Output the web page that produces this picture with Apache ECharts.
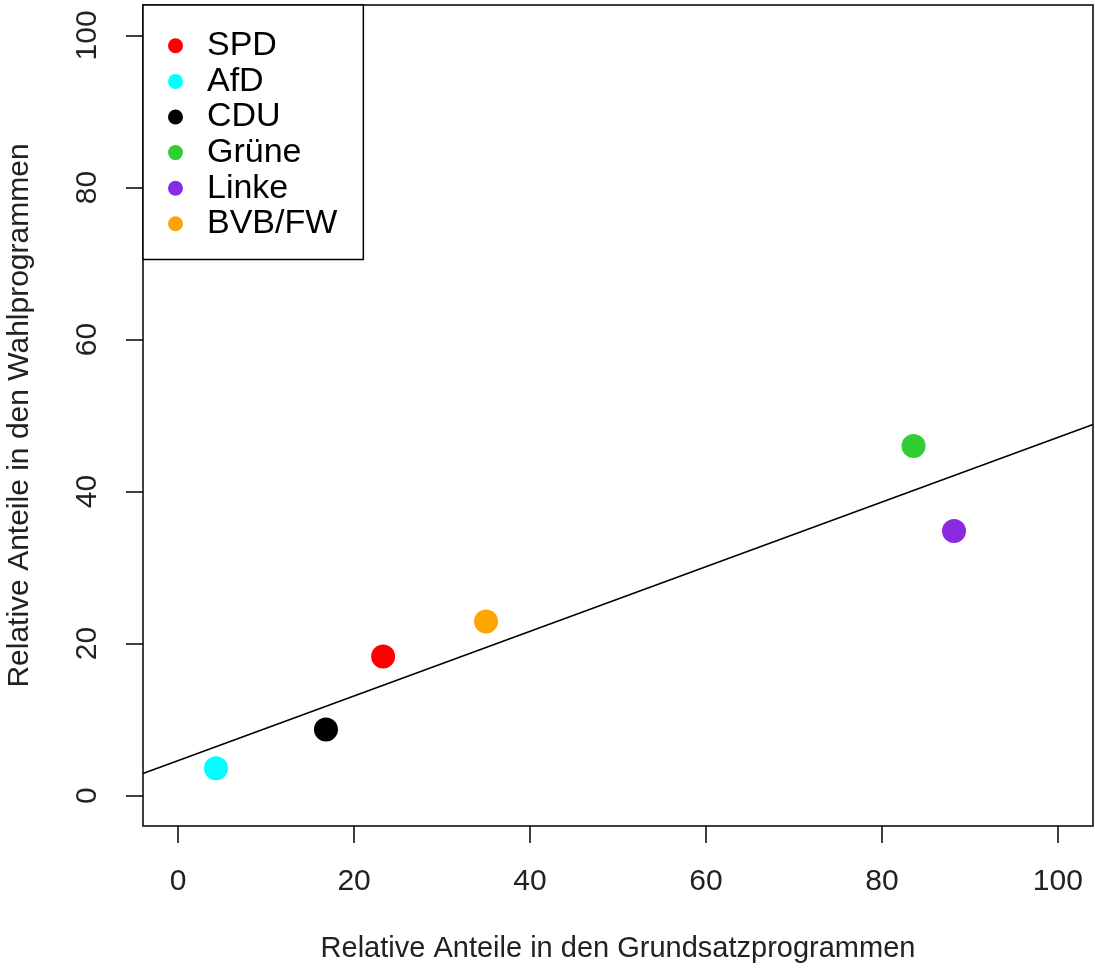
<!DOCTYPE html>
<html>
<head>
<meta charset="utf-8">
<script src="https://cdn.jsdelivr.net/npm/echarts@6/dist/echarts.min.js"></script>
<style>
  html, body { margin: 0; padding: 0; background: #fff; }
  #chart { width: 1095px; height: 971px; }
</style>
</head>
<body>
<div id="chart"></div>
<script>
// Parteien und ihre Anteile
var parties = ['SPD', 'AfD', 'CDU', 'Grüne', 'Linke', 'BVB/FW'];
var grundsatz = [23.3, 4.3, 16.8, 83.6, 88.2, 35.0];
var wahl = [18.3, 3.6, 8.7, 46.0, 34.8, 22.9];
var partyColors = ['#ff0000', '#00ffff', '#000000', '#32cd32', '#8a2be2', '#ffa500'];
var ticks = [0, 20, 40, 60, 80, 100];
// Regressionsgerade (abline)
var intercept = 4.6;
var slope = 0.425;
var axisMin = -4, axisMax = 104;

var font = 'Liberation Sans, Arial, sans-serif';

var series = parties.map(function (p, i) {
    return {
        name: p,
        type: 'scatter',
        symbol: 'circle',
        symbolSize: 24,
        itemStyle: { color: partyColors[i], opacity: 1 },
        data: [[grundsatz[i], wahl[i]]],
        z: 3
    };
});
series.push({
    name: 'fit',
    type: 'line',
    symbol: 'none',
    silent: true,
    lineStyle: { color: '#000', width: 1.6 },
    data: [[axisMin, intercept + slope * axisMin], [axisMax, intercept + slope * axisMax]],
    z: 2
});

var chart = echarts.init(document.getElementById('chart'));
chart.setOption({
    animation: false,
    backgroundColor: '#fff',
    grid: {
        left: 143, right: 2, top: 5, bottom: 145,
        outerBoundsMode: 'none',
        show: true, borderColor: '#000', borderWidth: 1.5, backgroundColor: 'transparent'
    },
    legend: {
        data: parties,
        orient: 'vertical',
        left: 143, top: 5,
        backgroundColor: '#fff',
        borderColor: '#000',
        borderWidth: 1.5,
        borderRadius: 0,
        padding: [23, 26, 18, 25],
        itemGap: 0,
        itemWidth: 15,
        itemHeight: 15,
        icon: 'circle',
        itemStyle: { borderWidth: 0 },
        textStyle: { fontFamily: font, fontSize: 34, color: '#000', lineHeight: 35.6, padding: [0, 0, 0, 19] },
        selectedMode: false
    },
    xAxis: {
        type: 'value',
        min: axisMin, max: axisMax,
        name: 'Relative Anteile in den Grundsatzprogrammen',
        nameLocation: 'middle',
        nameGap: 108,
        nameTextStyle: { fontFamily: font, fontSize: 29, color: '#222' },
        splitLine: { show: false },
        axisLine: { show: false, onZero: false },
        axisTick: { show: true, length: 17, customValues: ticks, lineStyle: { color: '#000', width: 1.5 } },
        axisLabel: { customValues: ticks, margin: 41, fontFamily: font, fontSize: 30, color: '#222' }
    },
    yAxis: {
        type: 'value',
        min: axisMin, max: axisMax,
        name: 'Relative Anteile in den Wahlprogrammen',
        nameLocation: 'middle',
        nameGap: 108,
        nameTextStyle: { fontFamily: font, fontSize: 30, color: '#222' },
        splitLine: { show: false },
        axisLine: { show: false, onZero: false },
        axisTick: { show: true, length: 17, customValues: ticks, lineStyle: { color: '#000', width: 1.5 } },
        axisLabel: { customValues: ticks, rotate: 90, margin: 40, fontFamily: font, fontSize: 30, color: '#222' }
    },
    series: series
});
</script>
</body>
</html>
